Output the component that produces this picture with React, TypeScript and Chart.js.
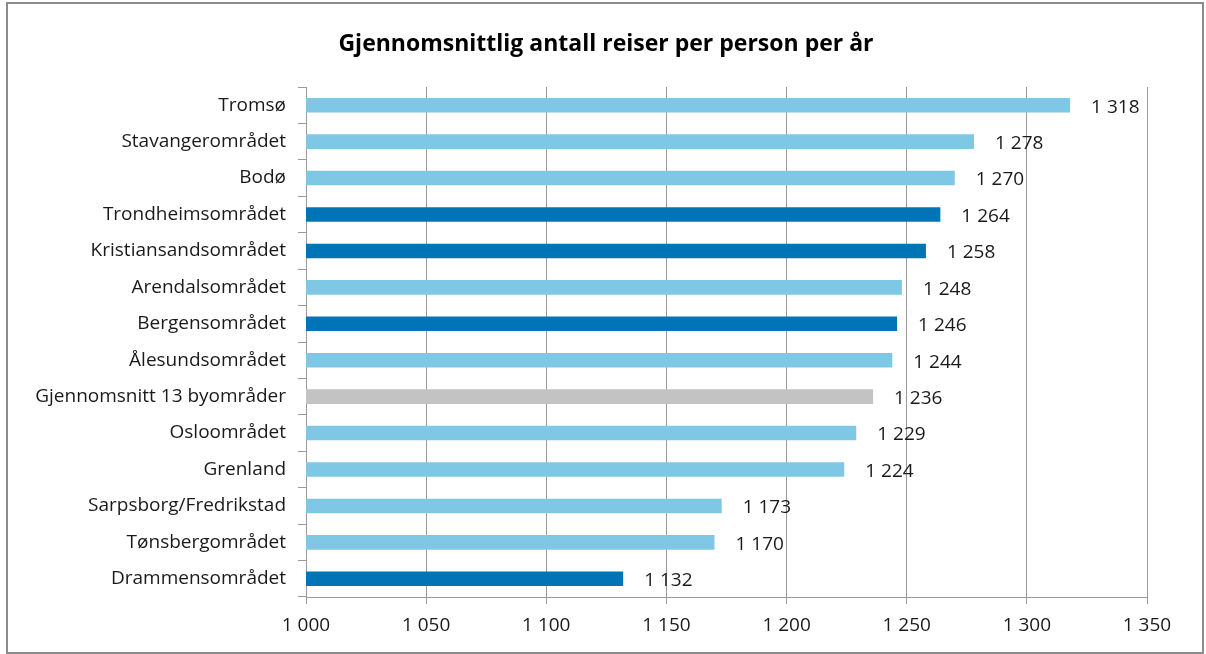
import React, { useEffect, useRef } from "react";
import { Chart, registerables } from "chart.js";

Chart.register(...registerables);

const categories = [
  "Tromsø",
  "Stavangerområdet",
  "Bodø",
  "Trondheimsområdet",
  "Kristiansandsområdet",
  "Arendalsområdet",
  "Bergensområdet",
  "Ålesundsområdet",
  "Gjennomsnitt 13 byområder",
  "Osloområdet",
  "Grenland",
  "Sarpsborg/Fredrikstad",
  "Tønsbergområdet",
  "Drammensområdet",
];

const values = [1318, 1278, 1270, 1264, 1258, 1248, 1246, 1244, 1236, 1229, 1224, 1173, 1170, 1132];

// bar type: "light", "dark", "avg"
const barKinds = [
  "light", "light", "light", "dark", "dark", "light", "dark",
  "light", "avg", "light", "light", "light", "light", "dark",
];

const xTicks = [1000, 1050, 1100, 1150, 1200, 1250, 1300, 1350];

const title = "Gjennomsnittlig antall reiser per person per år";

const kindColors: Record<string, string> = {
  light: "#7EC8E6",
  dark: "#0074B6",
  avg: "#C3C3C3",
};

const fmt = (v: number) => {
  const s = String(Math.round(v));
  return s.replace(/\B(?=(\d{3})+(?!\d))/g, " ");
};

const FONT = "'Open Sans', Lato, sans-serif";

const framePlugin = {
  id: "frame",
  beforeDraw(chart: any) {
    const ctx = chart.ctx;
    ctx.save();
    ctx.fillStyle = "#ffffff";
    ctx.fillRect(0, 0, chart.width, chart.height);
    ctx.strokeStyle = "#8c8c8c";
    ctx.lineWidth = 2;
    ctx.strokeRect(7, 3, 1196, 650);
    ctx.font = `bold 23px ${FONT}`;
    ctx.fillStyle = "#000";
    ctx.textAlign = "center";
    ctx.textBaseline = "alphabetic";
    ctx.fillText(title, 606, 51);
    ctx.restore();
  },
};

const valueLabelPlugin = {
  id: "valueLabels",
  afterDatasetsDraw(chart: any) {
    const ctx = chart.ctx;
    const meta = chart.getDatasetMeta(0);
    ctx.save();
    ctx.font = `19px ${FONT}`;
    ctx.fillStyle = "#1a1a1a";
    ctx.textAlign = "left";
    ctx.textBaseline = "middle";
    meta.data.forEach((bar: any, i: number) => {
      ctx.fillText(fmt(values[i]), bar.x + 21, bar.y + 2);
    });
    ctx.restore();
  },
};

export default function App() {
  const ref = useRef<HTMLCanvasElement>(null);

  useEffect(() => {
    document.body.style.margin = "0";
    if (!ref.current) return;
    const chart = new Chart(ref.current, {
      type: "bar",
      data: {
        labels: categories,
        datasets: [
          {
            data: values,
            backgroundColor: barKinds.map((k) => kindColors[k]),
            borderWidth: 0,
            barPercentage: 0.4,
            categoryPercentage: 1,
          },
        ],
      },
      options: {
        indexAxis: "y",
        animation: false,
        responsive: false,
        devicePixelRatio: 1,
        layout: { padding: { left: 10, right: 59, top: 87, bottom: 0 } },
        plugins: {
          legend: { display: false },
          tooltip: { enabled: false },
          title: { display: false },
        },
        scales: {
          x: {
            type: "linear",
            min: 1000,
            max: 1350,
            afterBuildTicks: (scale: any) => {
              scale.ticks = xTicks.map((v) => ({ value: v }));
            },
            afterFit: (scale: any) => {
              scale.height = 57;
            },
            grid: {
              color: "#9a9a9a",
              lineWidth: 1,
              tickLength: 7,
              drawTicks: true,
            },
            border: { color: "#9a9a9a" },
            ticks: {
              color: "#1a1a1a",
              padding: 10,
              font: { family: FONT, size: 19 },
              callback: (v: any) => fmt(Number(v)),
            },
          },
          y: {
            type: "category",
            offset: true,
            afterFit: (scale: any) => {
              scale.width = 296;
            },
            grid: {
              offset: true,
              drawOnChartArea: false,
              color: "#9a9a9a",
              tickLength: 8,
            },
            border: { color: "#9a9a9a" },
            ticks: {
              color: "#1a1a1a",
              padding: 12,
              font: { family: FONT, size: 19 },
            },
          },
        },
      },
      plugins: [framePlugin, valueLabelPlugin],
    });
    return () => chart.destroy();
  }, []);

  return (
    <div style={{ width: 1206, height: 654 }}>
      <canvas ref={ref} width={1206} height={654} style={{ display: "block" }} />
    </div>
  );
}
